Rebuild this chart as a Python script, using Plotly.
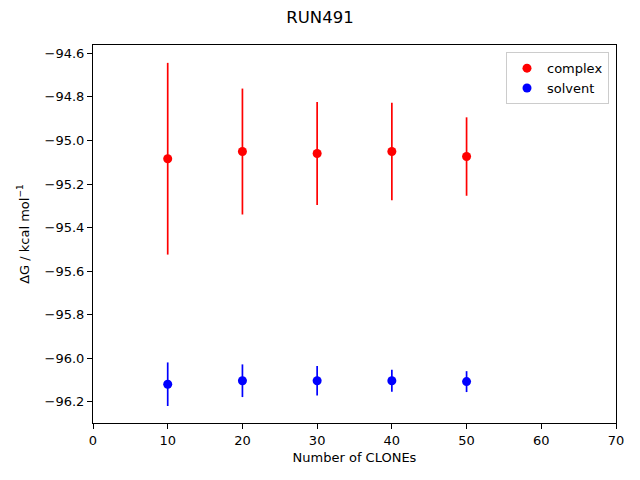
import plotly.graph_objects as go

clones = [10, 20, 30, 40, 50]
complex_dg = [-95.084, -95.051, -95.060, -95.051, -95.074]
complex_err = [0.440, 0.289, 0.236, 0.224, 0.180]
solvent_dg = [-96.119, -96.103, -96.103, -96.103, -96.107]
solvent_err = [0.100, 0.075, 0.068, 0.050, 0.048]
y_ticks = [-96.2, -96.0, -95.8, -95.6, -95.4, -95.2, -95.0, -94.8, -94.6]
x_ticks = [0, 10, 20, 30, 40, 50, 60, 70]

fig = go.Figure()
fig.add_trace(go.Scatter(
    x=clones, y=complex_dg, mode="markers", name="complex",
    marker=dict(color="red", size=9),
    error_y=dict(type="data", array=complex_err, visible=True, color="red",
                 thickness=1.7, width=0),
))
fig.add_trace(go.Scatter(
    x=clones, y=solvent_dg, mode="markers", name="solvent",
    marker=dict(color="blue", size=9),
    error_y=dict(type="data", array=solvent_err, visible=True, color="blue",
                 thickness=1.7, width=0),
))

axis_common = dict(
    showline=True, linecolor="black", linewidth=1, mirror=True,
    ticks="outside", ticklen=5, tickcolor="black", tickwidth=1,
    showgrid=False, zeroline=False,
    tickfont=dict(family="DejaVu Sans", size=13, color="black"),
)

fig.update_layout(
    width=640, height=480,
    paper_bgcolor="white", plot_bgcolor="white",
    margin=dict(l=85, r=32, t=37, b=65),
    font=dict(family="DejaVu Sans", size=13, color="black"),
    title=dict(text="RUN491", x=0.4875, xanchor="center", y=0.981, yanchor="middle",
               font=dict(family="DejaVu Sans", size=16.5, color="black")),
    xaxis=dict(range=[0, 70], tickvals=x_ticks,
               title=dict(text="Number of CLONEs", standoff=6,
                          font=dict(family="DejaVu Sans", size=13)),
               **axis_common),
    yaxis=dict(range=[-96.297, -94.562], tickvals=y_ticks, tickformat=".1f",
               title=dict(text="ΔG / kcal mol<sup>−1</sup>", standoff=12,
                          font=dict(family="DejaVu Sans", size=13)),
               **axis_common),
    legend=dict(x=0.9866, y=0.981, xanchor="right", yanchor="top",
                bgcolor="rgba(255,255,255,0.8)", bordercolor="#cccccc", borderwidth=1,
                font=dict(family="DejaVu Sans", size=13)),
    showlegend=True,
)

fig.write_html("out.html")
